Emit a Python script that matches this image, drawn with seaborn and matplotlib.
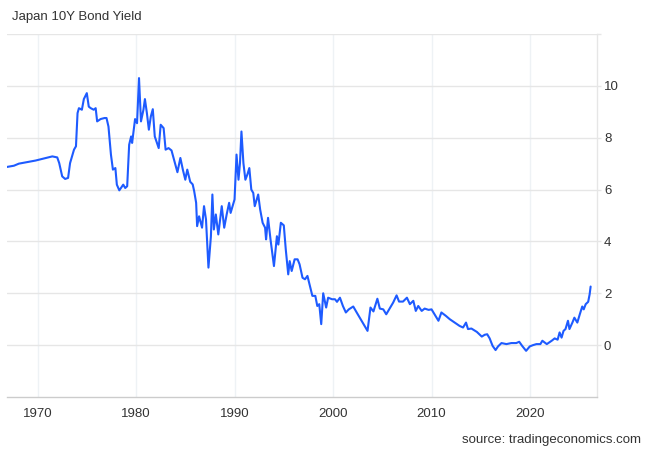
# filename: plot.py

import matplotlib
matplotlib.use('Agg')
import matplotlib.pyplot as plt
import numpy as np
import pandas as pd
import seaborn as sns


# values (year, yield %)
year = [
    1966.7, 1967.6, 1968.1, 1969.8, 1971.5, 1972.0, 1972.2, 1972.5, 1972.8, 1973.1,
    1973.3, 1973.7, 1973.9, 1974.06, 1974.2, 1974.5, 1974.7, 1975.0, 1975.2, 1975.4,
    1975.7, 1975.9, 1976.05, 1976.4, 1976.8, 1977.0, 1977.2, 1977.45, 1977.65, 1977.9,
    1978.05, 1978.3, 1978.7, 1978.9, 1979.1, 1979.3, 1979.5, 1979.6, 1979.9, 1980.1,
    1980.3, 1980.5, 1980.75, 1980.9, 1981.1, 1981.3, 1981.5, 1981.7, 1981.9, 1982.3,
    1982.5, 1982.8, 1983.0, 1983.3, 1983.6, 1984.0, 1984.2, 1984.5, 1984.75, 1985.0,
    1985.2, 1985.5, 1985.75, 1985.9, 1986.1, 1986.2, 1986.4, 1986.7, 1986.9, 1987.1,
    1987.35, 1987.6, 1987.75, 1987.9, 1988.1, 1988.35, 1988.7, 1988.95, 1989.2, 1989.45,
    1989.6, 1989.8, 1990.0, 1990.2, 1990.4, 1990.55, 1990.7, 1990.9, 1991.1, 1991.3,
    1991.5, 1991.7, 1991.9, 1992.05, 1992.4, 1992.6, 1992.85, 1993.1, 1993.2, 1993.4,
    1993.65, 1994.0, 1994.3, 1994.45, 1994.7, 1995.0, 1995.2, 1995.45, 1995.6, 1995.8,
    1996.1, 1996.4, 1996.6, 1996.9, 1997.15, 1997.4, 1997.65, 1997.9, 1998.2, 1998.4,
    1998.6, 1998.8, 1999.0, 1999.3, 1999.5, 1999.9, 2000.2, 2000.4, 2000.7, 2001.0,
    2001.3, 2001.6, 2002.05, 2002.4, 2002.9, 2003.2, 2003.5, 2003.8, 2004.1, 2004.5,
    2004.75, 2005.1, 2005.4, 2005.8, 2006.1, 2006.45, 2006.7, 2007.1, 2007.5, 2007.8,
    2008.15, 2008.4, 2008.65, 2009.0, 2009.3, 2009.7, 2010.0, 2010.3, 2010.7, 2011.0,
    2011.45, 2011.85, 2012.35, 2012.85, 2013.2, 2013.5, 2013.7, 2014.05, 2014.6, 2015.1,
    2015.4, 2015.65, 2015.9, 2016.2, 2016.5, 2016.75, 2017.1, 2017.6, 2018.1, 2018.6,
    2018.9, 2019.2, 2019.6, 2019.97, 2020.3, 2020.65, 2021.05, 2021.25, 2021.7, 2022.2,
    2022.5, 2022.8, 2023.0, 2023.2, 2023.4, 2023.6, 2023.85, 2024.0, 2024.3, 2024.5,
    2024.8, 2025.05, 2025.3, 2025.45, 2025.65, 2025.9, 2026.05, 2026.15,
]

bond_yield = [
    6.86, 6.92, 7.00, 7.12, 7.28, 7.24, 7.02, 6.51, 6.41, 6.45,
    7.02, 7.54, 7.67, 8.95, 9.14, 9.08, 9.49, 9.72, 9.20, 9.14,
    9.08, 9.14, 8.63, 8.72, 8.76, 8.76, 8.43, 7.35, 6.77, 6.83,
    6.19, 5.97, 6.19, 6.06, 6.13, 7.73, 8.05, 7.80, 8.72, 8.56,
    10.30, 8.63, 9.08, 9.49, 8.95, 8.31, 8.82, 9.10, 8.05, 7.60,
    8.50, 8.37, 7.54, 7.60, 7.51, 6.96, 6.67, 7.22, 6.77, 6.38,
    6.77, 6.30, 6.20, 5.94, 5.49, 4.59, 4.97, 4.53, 5.36, 4.85,
    2.99, 4.20, 5.81, 4.46, 5.04, 4.27, 5.36, 4.53, 5.04, 5.49,
    5.10, 5.36, 5.62, 7.35, 6.38, 7.02, 8.24, 7.02, 6.38, 6.58,
    6.83, 6.00, 5.87, 5.36, 5.81, 5.23, 4.72, 4.53, 4.08, 4.91,
    4.08, 3.05, 4.20, 3.88, 4.72, 4.62, 3.69, 2.73, 3.24, 2.86,
    3.31, 3.31, 3.12, 2.60, 2.54, 2.67, 2.28, 1.90, 1.90, 1.51,
    1.58, 0.81, 2.00, 1.45, 1.83, 1.77, 1.77, 1.67, 1.83, 1.51,
    1.26, 1.38, 1.49, 1.26, 0.94, 0.74, 0.55, 1.45, 1.30, 1.79,
    1.41, 1.38, 1.19, 1.45, 1.64, 1.92, 1.68, 1.68, 1.83, 1.58,
    1.71, 1.32, 1.51, 1.32, 1.41, 1.36, 1.38, 1.19, 0.94, 1.26,
    1.13, 1.00, 0.87, 0.74, 0.68, 0.87, 0.62, 0.64, 0.51, 0.33,
    0.40, 0.42, 0.26, -0.03, -0.19, -0.05, 0.08, 0.04, 0.08, 0.08,
    0.13, -0.03, -0.22, -0.05, 0.00, 0.04, 0.04, 0.17, 0.04, 0.17,
    0.26, 0.21, 0.49, 0.29, 0.55, 0.62, 0.94, 0.62, 0.87, 1.06,
    0.87, 1.19, 1.49, 1.38, 1.58, 1.67, 1.96, 2.26,
]

x_ticks = [1970, 1980, 1990, 2000, 2010, 2020]
x_tick_labels = ['1970', '1980', '1990', '2000', '2010', '2020']
y_grid = [0, 2, 4, 6, 8, 10, 12]
y_tick_labels = ['0', '2', '4', '6', '8', '10', '']

title = 'Japan 10Y Bond Yield'
source = 'source: tradingeconomics.com'

line_color = '#1e5bff'
text_color = '#333333'
font_size = 9.5


def main():

    sns.set_style('white')
    plt.rcParams['font.family'] = ['Liberation Sans', 'DejaVu Sans']

    df = pd.DataFrame({'year': year, 'yield': bond_yield})

    fig, ax = plt.subplots(figsize=(6.5, 4.5), dpi=100)
    plt.subplots_adjust(left=0.0108, right=0.9185, top=0.9244, bottom=0.1178)

    sns.lineplot(data=df, x='year', y='yield', ax=ax,
                 color=line_color, linewidth=1.5)

    ax.set_xlim(1966.9, 2026.8)
    ax.set_ylim(-2, 12)

    ax.set_xticks(x_ticks)
    ax.set_xticklabels(x_tick_labels)
    ax.set_yticks(y_grid)
    ax.set_yticklabels(y_tick_labels)

    ax.yaxis.tick_right()
    ax.tick_params(axis='y', length=3, width=1, color='#e6e6e6', pad=2,
                   labelsize=font_size, labelcolor=text_color)
    ax.tick_params(axis='x', length=0, pad=8,
                   labelsize=font_size, labelcolor=text_color)

    ax.grid(axis='y', color='#e6e6e6', linewidth=1)
    ax.grid(axis='x', color='#eef2f5', linewidth=1)
    ax.set_axisbelow(True)

    ax.set_xlabel('')
    ax.set_ylabel('')

    for side in ['left', 'top']:
        ax.spines[side].set_visible(False)
    ax.spines['right'].set_color('#e6e6e6')
    ax.spines['right'].set_linewidth(1)
    ax.spines['bottom'].set_color('#cccccc')
    ax.spines['bottom'].set_linewidth(1)

    fig.text(12 / 650, 1 - 17 / 450, title, fontsize=font_size,
             color=text_color, ha='left', va='center')
    fig.text(641 / 650, 1 - 440 / 450, source, fontsize=font_size,
             color=text_color, ha='right', va='center')

    plt.savefig('out.png', dpi=100)


if __name__ == '__main__':
    main()
